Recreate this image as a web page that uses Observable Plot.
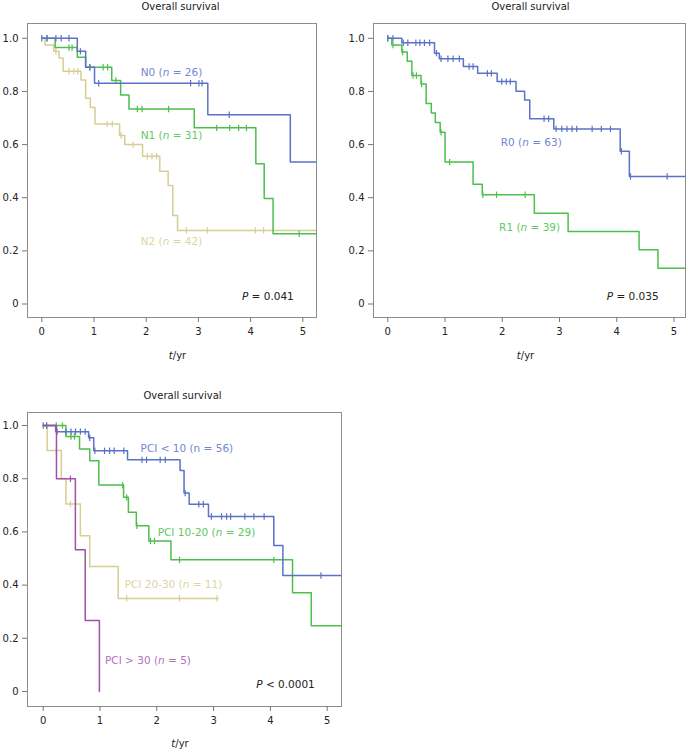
<!DOCTYPE html>
<html><head><meta charset="utf-8">
<script src="https://cdn.jsdelivr.net/npm/d3@7"></script>
<script src="https://cdn.jsdelivr.net/npm/@observablehq/plot@0.6"></script>
<style>
body{margin:0;background:#fff;}
#wrap{position:relative;width:688px;height:753px;background:#fff;overflow:hidden;}
.panel{position:absolute;}
</style></head><body><div id="wrap"></div>
<script>
// ---------- Data ----------
const xTicks = [0, 1, 2, 3, 4, 5];
const yTicks = [0, 0.2, 0.4, 0.6, 0.8, 1.0];
const panelTitle = "Overall survival";
const xAxisTitle = "*t*/yr";

// Panel A: nodal status
const n0Time = [0, 0.68, 0.84, 1.01, 3.18, 4.76, 5.3];
const n0Surv = [1, 0.951, 0.891, 0.831, 0.712, 0.534, 0.534];
const n0Cens = [0, 0.10, 0.27, 0.37, 0.52, 0.74, 0.92, 1.09, 2.85, 3.01, 3.07, 3.59];
const n1Time = [0, 0.255, 0.68, 0.84, 1.34, 1.51, 1.67, 2.92, 4.10, 4.26, 4.43, 5.3];
const n1Surv = [1, 0.965, 0.929, 0.891, 0.841, 0.787, 0.734, 0.663, 0.528, 0.397, 0.264, 0.264];
const n1Cens = [0.10, 0.52, 0.58, 0.92, 1.175, 1.26, 1.42, 1.83, 1.92, 2.43, 3.35, 3.60, 3.77, 3.92, 4.93];
const n2Time = [0, 0.06, 0.23, 0.33, 0.41, 0.75, 0.84, 0.93, 1.02, 1.49, 1.59, 1.93, 2.26, 2.42, 2.51, 2.60, 5.3];
const n2Surv = [1, 0.975, 0.951, 0.926, 0.876, 0.843, 0.774, 0.74, 0.677, 0.634, 0.60, 0.556, 0.50, 0.446, 0.333, 0.277, 0.277];
const n2Cens = [0.27, 0.52, 0.61, 0.69, 1.25, 1.35, 1.52, 1.75, 2.02, 2.11, 2.20, 2.77, 3.17, 4.09, 4.25];
const labelsA = ["N0 (*n* = 26)", "N1 (*n* = 31)", "N2 (*n* = 42)", "*P* = 0.041"];

// Panel B: resection status
const r0Time = [0, 0.245, 0.816, 0.90, 1.32, 1.57, 1.91, 2.24, 2.39, 2.48, 2.90, 4.06, 4.22, 5.3];
const r0Surv = [1, 0.983, 0.944, 0.923, 0.894, 0.868, 0.837, 0.801, 0.768, 0.697, 0.659, 0.575, 0.48, 0.48];
const r0Cens = [0, 0.09, 0.27, 0.35, 0.49, 0.56, 0.64, 0.73, 0.85, 0.93, 1.05, 1.14, 1.25, 1.42, 1.49, 1.74, 1.81, 1.99, 2.07, 2.14, 2.73, 2.81, 2.94, 3.04, 3.13, 3.22, 3.30, 3.57, 3.73, 3.89, 4.08, 4.24, 4.88];
const r1Time = [0, 0.07, 0.245, 0.34, 0.42, 0.58, 0.67, 0.76, 0.83, 0.915, 1.0, 1.49, 1.65, 2.56, 3.15, 4.39, 4.72, 5.3];
const r1Surv = [1, 0.975, 0.948, 0.914, 0.86, 0.828, 0.755, 0.719, 0.683, 0.646, 0.534, 0.451, 0.411, 0.342, 0.273, 0.204, 0.135, 0.135];
const r1Cens = [0, 0.09, 0.26, 0.44, 0.50, 0.59, 0.93, 1.08, 1.66, 1.90, 2.40];
const labelsB = ["R0 (*n* = 63)", "R1 (*n* = 39)", "*P* = 0.035"];

// Panel C: peritoneal cancer index
const pciATime = [0, 0.22, 0.80, 0.89, 1.485, 2.41, 2.48, 2.57, 2.91, 4.06, 4.22, 5.3];
const pciASurv = [1, 0.977, 0.954, 0.905, 0.871, 0.831, 0.746, 0.704, 0.658, 0.549, 0.436, 0.436];
const pciACens = [0, 0.06, 0.245, 0.40, 0.49, 0.57, 0.655, 0.74, 0.82, 0.91, 1.08, 1.17, 1.25, 1.42, 1.74, 1.82, 2.06, 2.15, 2.50, 2.74, 2.82, 2.96, 3.14, 3.23, 3.30, 3.55, 3.71, 3.89, 4.89];
const pciBTime = [0, 0.40, 0.64, 0.82, 0.98, 1.415, 1.50, 1.64, 1.86, 2.25, 4.39, 4.72, 5.3];
const pciBSurv = [1, 0.959, 0.912, 0.868, 0.776, 0.73, 0.674, 0.623, 0.566, 0.495, 0.371, 0.247, 0.247];
const pciBCens = [0.06, 0.23, 0.34, 0.49, 0.55, 1.40, 1.47, 1.65, 1.89, 1.96, 2.40, 4.06];
const pciCTime = [0, 0.07, 0.32, 0.40, 0.655, 0.82, 1.32, 3.08];
const pciCSurv = [1, 0.906, 0.80, 0.705, 0.586, 0.47, 0.35, 0.35];
const pciCCens = [0.23, 0.48, 1.47, 2.40, 3.06];
const pciDTime = [0, 0.234, 0.567, 0.74, 0.99];
const pciDSurv = [1, 0.80, 0.533, 0.267, 0];
const pciDCens = [0.48];
const labelsC = ["PCI < 10 (n = 56)", "PCI 10-20 (*n* = 29)", "PCI 20-30 (*n* = 11)", "PCI > 30 (*n* = 5)", "*P* < 0.0001"];

// ---------- Styles & layout ----------
const C = {
  blue: {line: "#5b72c8", text: "#7386d3"},
  green: {line: "#4cbf4c", text: "#62c962"},
  tan: {line: "#d6ce94", text: "#ddd6a4"},
  purple: {line: "#a050a8", text: "#b371bb"},
  black: {text: "#222"}
};

function stepAt(time, surv, t) {
  let v = surv[0];
  for (let i = 0; i < time.length; i++) if (time[i] <= t) v = surv[i];
  return v;
}

const censorSymbol = {
  draw(ctx, size) {
    const r = Math.sqrt(size / Math.PI);
    ctx.moveTo(0, -r); ctx.lineTo(0, r);
  }
};

function italicize(svg) {
  svg.querySelectorAll("text").forEach(el => {
    const s = el.textContent;
    if (!s.includes("*")) return;
    while (el.firstChild) el.removeChild(el.firstChild);
    s.split(/(\*[^*]+\*)/).forEach(part => {
      if (!part) return;
      const ts = document.createElementNS("http://www.w3.org/2000/svg", "tspan");
      if (part.startsWith("*")) { ts.setAttribute("font-style", "italic"); ts.textContent = part.slice(1, -1); }
      else ts.textContent = part;
      el.appendChild(ts);
    });
  });
}

function panel(cfg) {
  const marks = [Plot.frame({stroke: "#8c8c8c"})];
  cfg.groups.forEach(g => {
    const pts = g.time.map((t, i) => ({t, s: g.surv[i]}));
    marks.push(Plot.line(pts, {x: "t", y: "s", curve: "step-after", stroke: g.color.line, strokeWidth: 1.5, clip: true}));
    const cp = g.cens.map(t => ({t, s: stepAt(g.time, g.surv, t)}));
    marks.push(Plot.dot(cp, {x: "t", y: "s", symbol: censorSymbol, r: 3.2, stroke: g.color.line, strokeWidth: 1.2, fill: "none", clip: true}));
  });
  marks.push(Plot.text(cfg.labels, {x: "x", y: "y", text: "text", fill: d => d.fill, fontSize: 10.5, textAnchor: "middle"}));
  marks.push(Plot.axisX({ticks: xTicks, tickSize: 5, tickPadding: 5, stroke: "#777", fill: "#222", label: null, tickFormat: d => String(d)}));
  marks.push(Plot.axisY({ticks: yTicks, tickSize: 5, tickPadding: 4, stroke: "#777", fill: "#222", label: null, tickFormat: d => d === 0 ? "0" : d.toFixed(1)}));
  marks.push(Plot.text([panelTitle], {frameAnchor: "top", lineAnchor: "middle", dy: -17, dx: cfg.titleDx, fill: "#222", fontSize: 10}));
  marks.push(Plot.text([xAxisTitle], {frameAnchor: "bottom", lineAnchor: "middle", dy: cfg.xlabDy, dx: cfg.xlabDx, fill: "#222", fontSize: 10}));
  const svg = Plot.plot({
    width: cfg.width, height: cfg.height,
    marginLeft: cfg.m[0], marginRight: cfg.m[1], marginTop: cfg.m[2], marginBottom: cfg.m[3],
    x: {domain: cfg.xd},
    y: {domain: cfg.yd},
    style: {fontFamily: "DejaVu Sans, Verdana, sans-serif", fontSize: "10px", background: "transparent", overflow: "visible"},
    marks
  });
  italicize(svg);
  svg.classList.add("panel");
  svg.style.left = cfg.left + "px";
  svg.style.top = cfg.top + "px";
  document.getElementById("wrap").appendChild(svg);
}

function lab(texts, xs, ys, colors) {
  return texts.map((text, i) => ({text, x: xs[i], y: ys[i], fill: colors[i].text}));
}

panel({
  left: 0, top: 0, width: 344, height: 365, m: [27, 28, 23, 48],
  xd: [-0.274, 5.262], yd: [-0.0508, 1.0557], titleDx: 8.5, xlabDx: 5.5, xlabDy: 38,
  groups: [
    {time: n2Time, surv: n2Surv, cens: n2Cens, color: C.tan},
    {time: n1Time, surv: n1Surv, cens: n1Cens, color: C.green},
    {time: n0Time, surv: n0Surv, cens: n0Cens, color: C.blue}
  ],
  labels: lab(labelsA, [2.485, 2.485, 2.485, 4.33], [0.871, 0.634, 0.235, 0.028], [C.blue, C.green, C.tan, C.black])
});

panel({
  left: 344, top: 0, width: 344, height: 365, m: [29, 3, 23, 48],
  xd: [-0.25, 5.201], yd: [-0.0508, 1.0557], titleDx: 1, xlabDx: -4, xlabDy: 38,
  groups: [
    {time: r1Time, surv: r1Surv, cens: r1Cens, color: C.green},
    {time: r0Time, surv: r0Surv, cens: r0Cens, color: C.blue}
  ],
  labels: lab(labelsB, [2.507, 2.477, 4.278], [0.608, 0.288, 0.028], [C.blue, C.green, C.black])
});

panel({
  left: 0, top: 380, width: 344, height: 373, m: [27, 3, 32, 47],
  xd: [-0.276, 5.252], yd: [-0.0564, 1.049], titleDx: -2, xlabDx: -4.5, xlabDy: 37,
  groups: [
    {time: pciCTime, surv: pciCSurv, cens: pciCCens, color: C.tan},
    {time: pciBTime, surv: pciBSurv, cens: pciBCens, color: C.green},
    {time: pciATime, surv: pciASurv, cens: pciACens, color: C.blue},
    {time: pciDTime, surv: pciDSurv, cens: pciDCens, color: C.purple}
  ],
  labels: lab(labelsC, [2.53, 2.875, 2.294, 1.845, 4.266], [0.914, 0.598, 0.402, 0.117, 0.026], [C.blue, C.green, C.tan, C.purple, C.black])
});
</script>
</body></html>
